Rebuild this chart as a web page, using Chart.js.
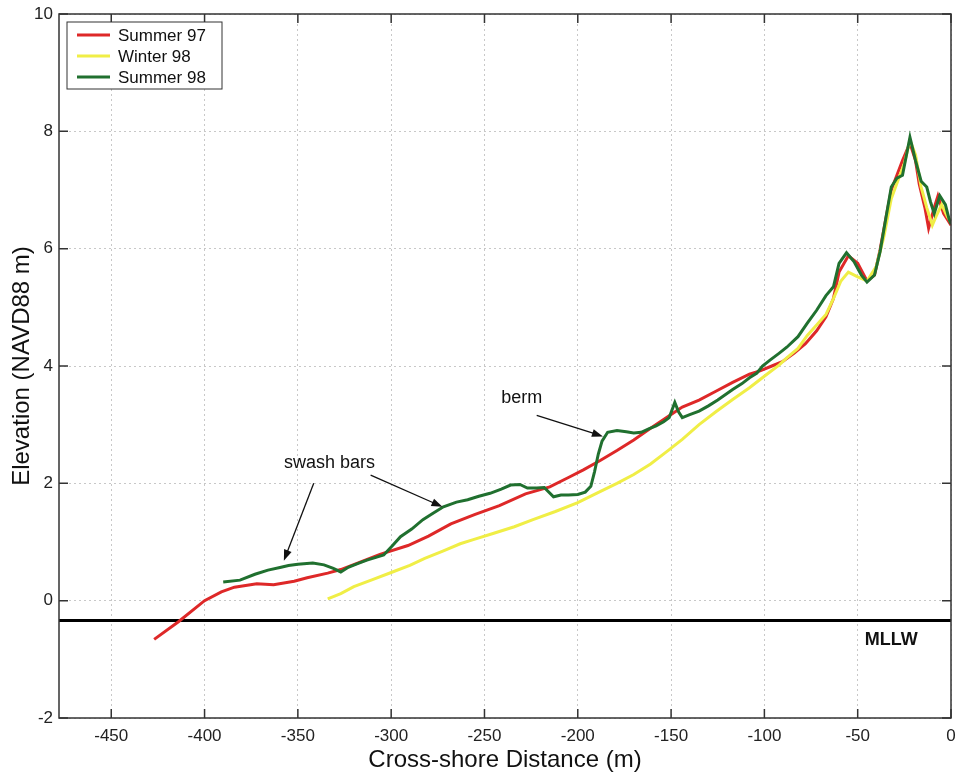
<!DOCTYPE html>
<html>
<head>
<meta charset="utf-8">
<script src="https://cdn.jsdelivr.net/npm/chart.js@4.4.0/dist/chart.umd.min.js"></script>
<style>
  html, body { margin: 0; padding: 0; background: #fff; }
  #wrap { width: 958px; height: 775px; }
</style>
</head>
<body>
<div id="wrap"><canvas id="profile" width="958" height="775"></canvas></div>
<script>
// ---- beach profile data ----
const summer97X = [-427, -414, -400, -391, -384, -372, -363, -352, -345, -334,
  -327, -318, -306, -291, -280, -268, -255, -242, -228, -215,
  -205, -197, -188, -179, -170, -161, -152, -144, -135, -126,
  -117, -108, -102, -96, -90, -84, -78, -72, -67, -63,
  -60, -55, -50, -45, -41, -38, -35, -32, -29, -26,
  -22, -19, -17, -14, -12, -9, -7, -4, -1, 0];
const summer97Y = [-0.66, -0.36, 0.0, 0.15, 0.23, 0.29, 0.27, 0.33, 0.39, 0.47,
  0.53, 0.64, 0.79, 0.94, 1.1, 1.31, 1.47, 1.62, 1.82, 1.94,
  2.1, 2.23, 2.39, 2.56, 2.74, 2.94, 3.13, 3.3, 3.42, 3.57,
  3.72, 3.86, 3.92, 4.0, 4.08, 4.22, 4.38, 4.6, 4.84, 5.15,
  5.6, 5.88, 5.75, 5.45, 5.55, 5.98, 6.5, 7.0, 7.25, 7.5,
  7.8, 7.5, 7.1, 6.7, 6.35, 6.7, 6.9, 6.6, 6.45, 6.4];

const winter98X = [-334, -327, -320, -310, -300, -290, -282, -272, -263, -256,
  -245, -234, -224, -212, -200, -190, -179, -170, -161, -152,
  -144, -135, -126, -117, -108, -99, -92, -88, -82, -77,
  -72, -67, -63, -59, -55, -50, -45, -40, -36, -32,
  -28, -25, -22, -19, -16, -13, -10, -8, -5, -2, 0];
const winter98Y = [0.03, 0.12, 0.24, 0.36, 0.48, 0.6, 0.72, 0.85, 0.97, 1.04,
  1.15, 1.26, 1.38, 1.52, 1.67, 1.83, 2.0, 2.15, 2.33, 2.55,
  2.75, 3.0, 3.22, 3.43, 3.63, 3.85, 4.02, 4.14, 4.3, 4.52,
  4.7, 4.88, 5.15, 5.45, 5.6, 5.52, 5.45, 5.7, 6.2, 6.85,
  7.2, 7.45, 7.85, 7.6, 7.05, 6.7, 6.4, 6.55, 6.75, 6.55, 6.45];

const summer98X = [-390, -381, -373, -366, -359, -355, -350, -342, -336, -331,
  -327, -323, -318, -313, -304, -299, -295, -289, -283, -278,
  -272, -265, -259, -253, -247, -241, -236, -231, -227, -222,
  -218, -213, -209, -205, -200, -196, -193, -191, -189, -187,
  -184, -179, -174, -170, -166, -162, -158, -154, -151, -148,
  -146, -144, -140, -135, -130, -125, -117, -112, -108, -104,
  -101, -97, -92, -88, -82, -77, -72, -67, -63, -60,
  -56, -52, -48, -45, -41, -38, -35, -32, -29, -26,
  -22, -19, -16, -13, -11, -9, -6, -3, -1, 0];
const summer98Y = [0.32, 0.35, 0.45, 0.52, 0.57, 0.6, 0.62, 0.64, 0.61, 0.55,
  0.49, 0.57, 0.63, 0.69, 0.78, 0.95, 1.09, 1.22, 1.38, 1.48,
  1.6, 1.68, 1.72, 1.78, 1.83, 1.9, 1.97, 1.98, 1.92, 1.92,
  1.93, 1.77, 1.8, 1.8, 1.81, 1.85, 1.95, 2.2, 2.5, 2.72,
  2.87, 2.9, 2.88, 2.86, 2.87, 2.93, 2.98, 3.05, 3.12, 3.38,
  3.22, 3.12, 3.17, 3.23, 3.32, 3.42, 3.6, 3.7, 3.8, 3.88,
  4.0, 4.1, 4.22, 4.32, 4.5, 4.73, 4.95, 5.2, 5.35, 5.75,
  5.93, 5.78, 5.55, 5.43, 5.55, 5.95, 6.5, 7.05, 7.2, 7.25,
  7.9, 7.5, 7.15, 7.05, 6.8, 6.6, 6.9, 6.75, 6.5, 6.42];

const seriesNames = ['Summer 97', 'Winter 98', 'Summer 98'];
const MLLW_LEVEL = -0.34;
const X_MIN = -478, X_MAX = 0, X_STEP = 50;
const Y_MIN = -2, Y_MAX = 10, Y_STEP = 2;

// labels with arrows, in data coordinates
const notes = [
  { text: 'swash bars', x: -333, y: 2.35 },
  { text: 'berm', x: -230, y: 3.45 }
];
const arrows = [
  { from: [-341.5, 2.0], to: [-357.5, 0.68] },
  { from: [-311, 2.14], to: [-272.5, 1.6] },
  { from: [-222, 3.16], to: [-186.5, 2.8] }
];

const COLORS = ['#de2828', '#f0ee46', '#20702f'];
const FONT = "'Liberation Sans', Arial, Helvetica, sans-serif";

function toPoints(xs, ys) {
  return xs.map((x, i) => ({ x, y: ys[i] }));
}

function drawArrow(ctx, x1, y1, x2, y2) {
  const ang = Math.atan2(y2 - y1, x2 - x1);
  const len = 11, half = 4;
  ctx.beginPath();
  ctx.moveTo(x1, y1);
  ctx.lineTo(x2 - Math.cos(ang) * len * 0.8, y2 - Math.sin(ang) * len * 0.8);
  ctx.stroke();
  ctx.beginPath();
  ctx.moveTo(x2, y2);
  ctx.lineTo(x2 - Math.cos(ang) * len - Math.sin(ang) * half, y2 - Math.sin(ang) * len + Math.cos(ang) * half);
  ctx.lineTo(x2 - Math.cos(ang) * len + Math.sin(ang) * half, y2 - Math.sin(ang) * len - Math.cos(ang) * half);
  ctx.closePath();
  ctx.fill();
}

// MLLW line, frame with inward ticks, legend box, arrows and labels
const profileDecor = {
  id: 'profileDecor',
  beforeDatasetsDraw(chart) {
    const { ctx, chartArea: a, scales: { y } } = chart;
    const py = y.getPixelForValue(MLLW_LEVEL);
    ctx.save();
    ctx.strokeStyle = '#000';
    ctx.lineWidth = 3;
    ctx.beginPath();
    ctx.moveTo(a.left, py);
    ctx.lineTo(a.right, py);
    ctx.stroke();
    ctx.restore();
  },
  afterDatasetsDraw(chart) {
    const { ctx, chartArea: a, scales: { x, y } } = chart;
    ctx.save();

    // frame + inward ticks
    ctx.strokeStyle = '#333';
    ctx.lineWidth = 1.5;
    ctx.strokeRect(a.left, a.top, a.right - a.left, a.bottom - a.top);
    const TL = 9;
    ctx.beginPath();
    x.ticks.forEach(t => {
      const px = x.getPixelForValue(t.value);
      ctx.moveTo(px, a.bottom); ctx.lineTo(px, a.bottom - TL);
      ctx.moveTo(px, a.top); ctx.lineTo(px, a.top + TL);
    });
    y.ticks.forEach(t => {
      const py = y.getPixelForValue(t.value);
      ctx.moveTo(a.left, py); ctx.lineTo(a.left + TL, py);
      ctx.moveTo(a.right, py); ctx.lineTo(a.right - TL, py);
    });
    ctx.stroke();

    // MLLW label
    ctx.fillStyle = '#111';
    ctx.font = 'bold 18px ' + FONT;
    ctx.textAlign = 'center';
    ctx.textBaseline = 'middle';
    ctx.fillText('MLLW', x.getPixelForValue(-32), y.getPixelForValue(-0.67));

    // annotations
    ctx.font = '18px ' + FONT;
    notes.forEach(n => ctx.fillText(n.text, x.getPixelForValue(n.x), y.getPixelForValue(n.y)));
    ctx.strokeStyle = '#111';
    ctx.fillStyle = '#111';
    ctx.lineWidth = 1.3;
    arrows.forEach(ar => drawArrow(ctx,
      x.getPixelForValue(ar.from[0]), y.getPixelForValue(ar.from[1]),
      x.getPixelForValue(ar.to[0]), y.getPixelForValue(ar.to[1])));

    // legend
    const lx = a.left + 8, ly = a.top + 8, lw = 155, lh = 67;
    ctx.fillStyle = '#fff';
    ctx.fillRect(lx, ly, lw, lh);
    ctx.strokeStyle = '#333';
    ctx.lineWidth = 1;
    ctx.strokeRect(lx, ly, lw, lh);
    ctx.font = '17px ' + FONT;
    ctx.textAlign = 'left';
    seriesNames.forEach((name, i) => {
      const ry = ly + 13 + i * 21;
      ctx.strokeStyle = COLORS[i];
      ctx.lineWidth = 3;
      ctx.beginPath();
      ctx.moveTo(lx + 10, ry);
      ctx.lineTo(lx + 43, ry);
      ctx.stroke();
      ctx.fillStyle = '#111';
      ctx.fillText(name, lx + 51, ry + 1);
    });
    ctx.restore();
  }
};

const lineStyle = (i) => ({
  borderColor: COLORS[i],
  backgroundColor: COLORS[i],
  borderWidth: 3,
  showLine: true,
  pointRadius: 0,
  fill: false,
  tension: 0
});

new Chart(document.getElementById('profile'), {
  type: 'scatter',
  data: {
    datasets: [
      { label: seriesNames[0], data: toPoints(summer97X, summer97Y), order: 2, ...lineStyle(0) },
      { label: seriesNames[1], data: toPoints(winter98X, winter98Y), order: 1, ...lineStyle(1) },
      { label: seriesNames[2], data: toPoints(summer98X, summer98Y), order: 0, ...lineStyle(2) }
    ]
  },
  options: {
    responsive: false,
    animation: false,
    layout: { padding: { top: 14, right: 7, left: 0, bottom: 0 } },
    plugins: {
      legend: { display: false },
      tooltip: { enabled: false }
    },
    scales: {
      x: {
        type: 'linear',
        min: X_MIN, max: X_MAX,
        afterFit: s => { s.height = 57; s.paddingRight = 0; s.paddingLeft = 0; },
        ticks: { stepSize: X_STEP, includeBounds: false, padding: 8, maxRotation: 0,
          color: '#222', font: { family: FONT, size: 17 } },
        grid: { color: '#c8c8c8', lineWidth: 1, drawTicks: false },
        border: { display: false, dash: [2, 3] },
        title: { display: true, text: 'Cross-shore Distance (m)', color: '#111',
          font: { family: FONT, size: 24 }, padding: 0 }
      },
      y: {
        type: 'linear',
        min: Y_MIN, max: Y_MAX,
        afterFit: s => { s.width = 59; s.paddingTop = 0; s.paddingBottom = 0; },
        ticks: { stepSize: Y_STEP, padding: 6, color: '#222', font: { family: FONT, size: 17 } },
        grid: { color: '#c8c8c8', lineWidth: 1, drawTicks: false },
        border: { display: false, dash: [2, 3] },
        title: { display: true, text: 'Elevation (NAVD88 m)', color: '#111',
          font: { family: FONT, size: 24 }, padding: { top: 8, bottom: 0 } }
      }
    }
  },
  plugins: [profileDecor]
});
</script>
</body>
</html>
